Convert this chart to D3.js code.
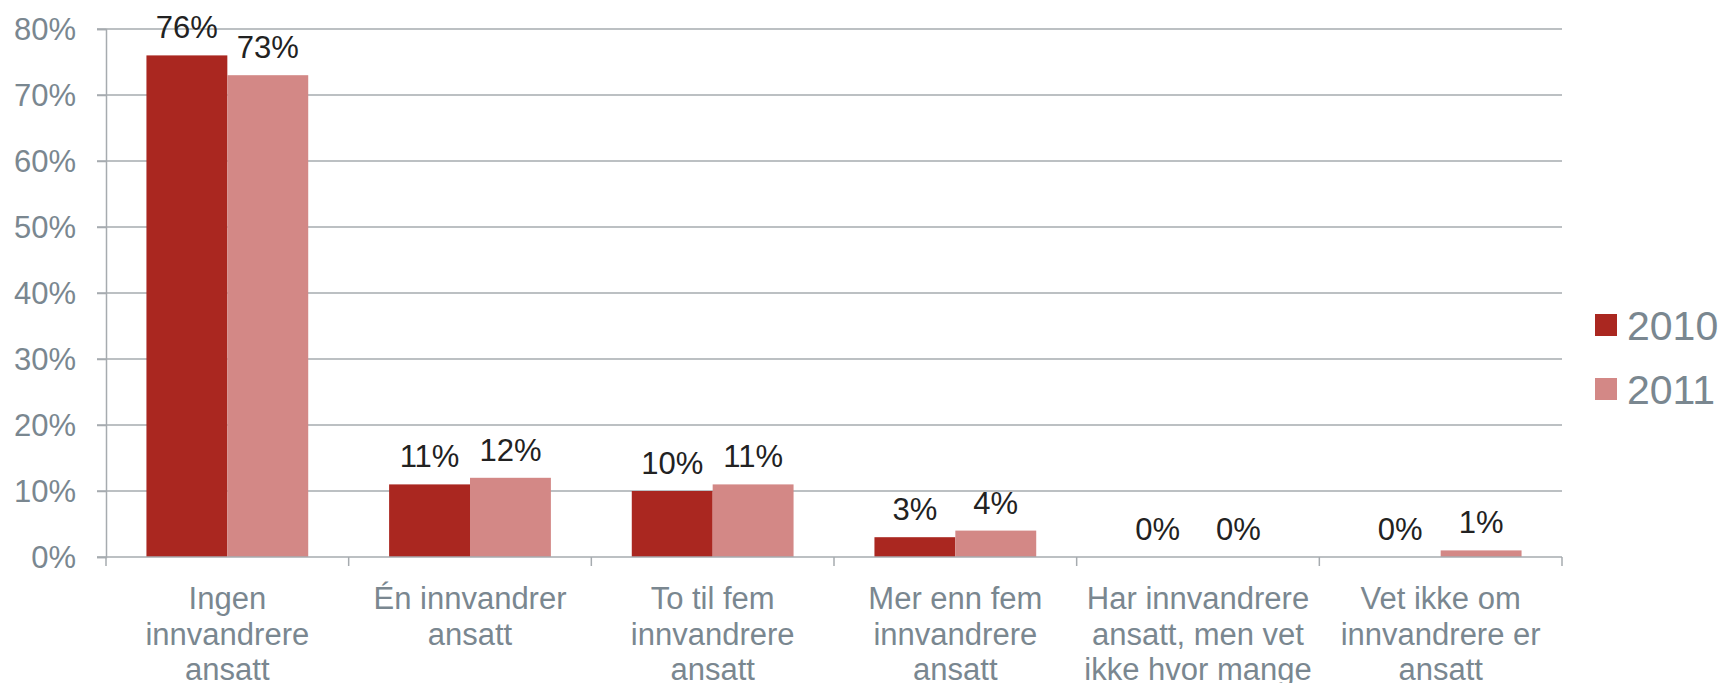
<!DOCTYPE html>
<html>
<head>
<meta charset="utf-8">
<script src="https://cdn.jsdelivr.net/npm/d3@7"></script>
<style>
  body { margin: 0; background: #fff; }
  svg { font-family: "Liberation Sans", Arial, sans-serif; }
</style>
</head>
<body>
<div id="chart"></div>
<script>
// Chart data
const categories = [
  'Ingen\ninnvandrere\nansatt',
  'Én innvandrer\nansatt',
  'To til fem\ninnvandrere\nansatt',
  'Mer enn fem\ninnvandrere\nansatt',
  'Har innvandrere\nansatt, men vet\nikke hvor mange',
  'Vet ikke om\ninnvandrere er\nansatt'
];
const seriesNames = ['2010', '2011'];
const values2010 = [76, 11, 10, 3, 0, 0];
const values2011 = [73, 12, 11, 4, 0, 1];
const yTicks = [0, 10, 20, 30, 40, 50, 60, 70, 80];

const seriesValues = [values2010, values2011];
const colors = ['#AA2720', '#D38886'];

const width = 1723;
const height = 683;
const margin = { top: 29, right: 161, bottom: 126, left: 106 };
const plotW = width - margin.left - margin.right;
const plotH = height - margin.top - margin.bottom;

const gridColor = '#A6ABAF';
const labelColor = '#7A8790';

const svg = d3.select('#chart')
  .append('svg')
  .attr('width', width)
  .attr('height', height);

const g = svg.append('g')
  .attr('transform', `translate(${margin.left},${margin.top})`);

// Scales
const x0 = d3.scaleBand()
  .domain(d3.range(categories.length))
  .range([0, plotW])
  .padding(0);

const x1 = d3.scaleBand()
  .domain(seriesNames)
  .range([0, x0.bandwidth()])
  .paddingInner(0)
  .paddingOuter(0.5);

const y = d3.scaleLinear()
  .domain([0, 80])
  .range([plotH, 0]);

// Gridlines
g.selectAll('.grid')
  .data(yTicks.filter(d => d > 0))
  .enter()
  .append('line')
  .attr('x1', -9)
  .attr('x2', plotW)
  .attr('y1', d => y(d))
  .attr('y2', d => y(d))
  .attr('stroke', gridColor)
  .attr('stroke-width', 1.5);

// Y axis
const yAxis = g.append('g')
  .call(d3.axisLeft(y).tickValues(yTicks).tickSize(9).tickPadding(21).tickFormat(d => d + '%'));
yAxis.select('.domain').attr('stroke', gridColor).attr('stroke-width', 1.5);
yAxis.selectAll('.tick line').attr('stroke', gridColor).attr('stroke-width', 1.5);
yAxis.selectAll('.tick text')
  .attr('fill', labelColor)
  .style('font-size', '31px')
  .attr('dy', '0.35em');

// Bars
seriesNames.forEach((name, si) => {
  g.selectAll('.bar-' + name)
    .data(seriesValues[si])
    .enter()
    .append('rect')
    .attr('x', (d, i) => x0(i) + x1(name))
    .attr('y', d => y(d))
    .attr('width', x1.bandwidth())
    .attr('height', d => plotH - y(d))
    .attr('fill', colors[si]);

  g.selectAll('.label-' + name)
    .data(seriesValues[si])
    .enter()
    .append('text')
    .attr('x', (d, i) => x0(i) + x1(name) + x1.bandwidth() / 2)
    .attr('y', d => y(d) - 17)
    .attr('text-anchor', 'middle')
    .attr('fill', '#222')
    .style('font-size', '31px')
    .text(d => d + '%');
});

// X axis line and ticks
g.append('line')
  .attr('x1', -9)
  .attr('x2', plotW)
  .attr('y1', plotH)
  .attr('y2', plotH)
  .attr('stroke', gridColor)
  .attr('stroke-width', 1.5);

g.selectAll('.xtick')
  .data(d3.range(categories.length + 1))
  .enter()
  .append('line')
  .attr('x1', d => d < categories.length ? x0(d) : plotW)
  .attr('x2', d => d < categories.length ? x0(d) : plotW)
  .attr('y1', plotH)
  .attr('y2', plotH + 9)
  .attr('stroke', gridColor)
  .attr('stroke-width', 1.5);

// Category labels
const catLabels = g.selectAll('.cat')
  .data(categories)
  .enter()
  .append('text')
  .attr('text-anchor', 'middle')
  .attr('fill', labelColor)
  .style('font-size', '31px')
  .attr('transform', (d, i) => `translate(${x0(i) + x0.bandwidth() / 2},${plotH + 52})`);

catLabels.selectAll('tspan')
  .data(d => d.split('\n'))
  .enter()
  .append('tspan')
  .attr('x', 0)
  .attr('y', (d, i) => i * 35.5)
  .text(d => d);

// Legend
const legend = svg.append('g')
  .attr('transform', 'translate(1595, 314)');

seriesNames.forEach((name, i) => {
  legend.append('rect')
    .attr('x', 0)
    .attr('y', i * 64)
    .attr('width', 22)
    .attr('height', 22)
    .attr('fill', colors[i]);
  legend.append('text')
    .attr('x', 32)
    .attr('y', i * 64 + 26)
    .attr('fill', labelColor)
    .style('font-size', '41px')
    .text(name);
});
</script>
</body>
</html>
